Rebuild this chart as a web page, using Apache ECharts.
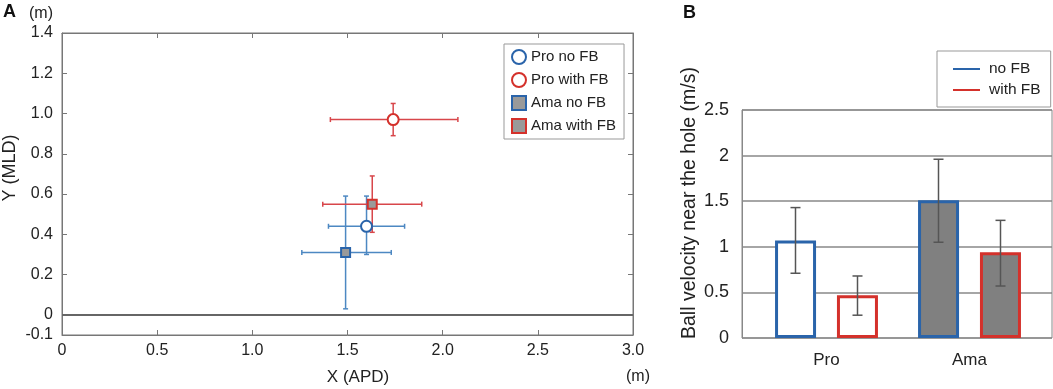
<!DOCTYPE html>
<html>
<head>
<meta charset="utf-8">
<script src="https://cdn.jsdelivr.net/npm/echarts@6/dist/echarts.min.js"></script>
<style>
html, body { margin: 0; padding: 0; background: #fff; }
#chart { width: 1053px; height: 389px; }
</style>
</head>
<body>
<div id="chart"></div>
<script>
// panel A: mean position with error ranges
const groups = ['Pro no FB', 'Pro with FB', 'Ama no FB', 'Ama with FB'];
const meanX = [1.60, 1.74, 1.49, 1.63];
const meanY = [0.44, 0.97, 0.31, 0.55];
const xLow = [1.40, 1.41, 1.26, 1.37];
const xHigh = [1.80, 2.08, 1.73, 1.89];
const yLow = [0.30, 0.89, 0.03, 0.41];
const yHigh = [0.59, 1.05, 0.59, 0.69];
const yTickValues = [0, 0.2, 0.4, 0.6, 0.8, 1.0, 1.2, 1.4];
const yLabelValues = [-0.1, 0, 0.2, 0.4, 0.6, 0.8, 1.0, 1.2, 1.4];

// panel B: ball velocity
const cats = ['Pro', 'Ama'];
const noFB = [1.07, 1.51];
const noFBLow = [0.71, 1.05];
const noFBHigh = [1.43, 1.96];
const withFB = [0.47, 0.94];
const withFBLow = [0.25, 0.57];
const withFBHigh = [0.68, 1.29];

const FONT = 'Liberation Sans, Arial, sans-serif';
const BLUE = '#2a64aa';
const RED = '#d4312b';
const BLUE_ERR = '#4d88c2';
const RED_ERR = '#d8464a';
const GRAY = '#808080';
const errColors = [BLUE_ERR, RED_ERR, BLUE_ERR, RED_ERR];

let chart = echarts.init(document.getElementById('chart'));

function crossErr(params, api) {
	let i = params.dataIndex;
	let x = api.value(0), y = api.value(1);
	let l = api.coord([api.value(2), y]);
	let r = api.coord([api.value(3), y]);
	let b = api.coord([x, api.value(4)]);
	let t = api.coord([x, api.value(5)]);
	let st = { stroke: errColors[i], lineWidth: 1.5 };
	let cap = 2.5;
	return {
		type: 'group',
		children: [
			{ type: 'line', shape: { x1: l[0], y1: l[1], x2: r[0], y2: r[1] }, style: st },
			{ type: 'line', shape: { x1: b[0], y1: b[1], x2: t[0], y2: t[1] }, style: st },
			{ type: 'line', shape: { x1: l[0], y1: l[1] - cap, x2: l[0], y2: l[1] + cap }, style: st },
			{ type: 'line', shape: { x1: r[0], y1: r[1] - cap, x2: r[0], y2: r[1] + cap }, style: st },
			{ type: 'line', shape: { x1: b[0] - cap, y1: b[1], x2: b[0] + cap, y2: b[1] }, style: st },
			{ type: 'line', shape: { x1: t[0] - cap, y1: t[1], x2: t[0] + cap, y2: t[1] }, style: st }
		]
	};
}

// bar error bars: bar width 41, gap 21 -> centre offset 31
function barErr(side) {
	return function(params, api) {
		let c = api.coord([api.value(0), api.value(1)]);
		let lo = api.coord([api.value(0), api.value(2)]);
		let hi = api.coord([api.value(0), api.value(3)]);
		let x = c[0] + side * 31;
		let st = { stroke: '#555', lineWidth: 1.5 };
		return {
			type: 'group',
			children: [
				{ type: 'line', shape: { x1: x, y1: lo[1], x2: x, y2: hi[1] }, style: st },
				{ type: 'line', shape: { x1: x - 5, y1: lo[1], x2: x + 5, y2: lo[1] }, style: st },
				{ type: 'line', shape: { x1: x - 5, y1: hi[1], x2: x + 5, y2: hi[1] }, style: st }
			]
		};
	};
}

let scatterSeries = groups.map(function(g, i) {
	let isPro = i < 2;
	let col = (i % 2 === 0) ? BLUE : RED;
	return {
		name: g,
		type: 'scatter',
		xAxisIndex: 0,
		yAxisIndex: 0,
		symbol: isPro ? 'circle' : 'rect',
		symbolSize: isPro ? 11 : 9,
		itemStyle: {
			color: isPro ? '#fff' : '#9a9a9a',
			borderColor: col,
			borderWidth: 2,
			opacity: 1
		},
		z: 5,
		data: [[meanX[i], meanY[i]]]
	};
});

let option = {
	animation: false,
	textStyle: { fontFamily: FONT },
	grid: [
		{ left: 62, top: 33, width: 571, height: 302, show: true, borderColor: '#777', borderWidth: 1, outerBoundsMode: 'none' },
		{ left: 742, right: 1, top: 110, bottom: 51, show: true, borderColor: '#888', borderWidth: 1, outerBoundsMode: 'none' },
		{ left: 755, right: 12, top: 110, bottom: 51, outerBoundsMode: 'none' }
	],
	legend: [
		{
			data: groups,
			orient: 'vertical',
			left: 504,
			top: 44,
			padding: [5, 8, 5, 7],
			itemGap: 7,
			itemWidth: 14,
			itemHeight: 14,
			borderColor: '#999',
			borderWidth: 1,
			backgroundColor: '#fff',
			textStyle: { fontSize: 15, color: '#222', fontFamily: FONT }
		},
		{
			data: [
				{ name: 'no FB', icon: 'rect', itemStyle: { color: BLUE, borderWidth: 0 } },
				{ name: 'with FB', icon: 'rect', itemStyle: { color: RED, borderWidth: 0 } }
			],
			orient: 'vertical',
			left: 937,
			top: 51,
			padding: [10, 10, 9, 16],
			itemGap: 5,
			itemWidth: 27,
			itemHeight: 2,
			borderColor: '#999',
			borderWidth: 1,
			textStyle: { fontSize: 15.5, color: '#222', fontFamily: FONT, padding: [0, 0, 0, 4] }
		}
	],
	xAxis: [
		{
			gridIndex: 0, type: 'value', min: 0, max: 3, interval: 0.5,
			axisLine: { onZero: false, lineStyle: { color: '#777' } },
			axisTick: { inside: true, length: 5, lineStyle: { color: '#777' } },
			axisLabel: {
				fontSize: 16, color: '#222', margin: 8,
				formatter: function(v) { return v === 0 ? '0' : v.toFixed(1); }
			},
			splitLine: { show: false }
		},
		{
			gridIndex: 0, type: 'value', min: 0, max: 3, interval: 0.5, position: 'top',
			axisLine: { onZero: false, lineStyle: { color: '#777' } },
			axisTick: { inside: true, length: 5, lineStyle: { color: '#777' } },
			axisLabel: { show: false },
			splitLine: { show: false }
		},
		{
			gridIndex: 1, type: 'value', min: 0, max: 1, show: false
		},
		{
			gridIndex: 2, type: 'category', data: cats,
			axisLine: { show: false },
			axisTick: { show: false },
			axisLabel: { fontSize: 17, color: '#222', margin: 14 }
		}
	],
	yAxis: [
		{
			gridIndex: 0, type: 'value', min: -0.1, max: 1.4,
			axisLine: { show: true, onZero: false, lineStyle: { color: '#777' } },
			axisTick: { show: true, inside: true, length: 5, customValues: yTickValues, lineStyle: { color: '#777' } },
			axisLabel: {
				fontSize: 16, color: '#222', margin: 9, customValues: yLabelValues,
				formatter: function(v) { return Math.abs(v) < 1e-9 ? '0' : v.toFixed(1); }
			},
			splitLine: { show: false }
		},
		{
			gridIndex: 0, type: 'value', min: -0.1, max: 1.4, position: 'right',
			axisLine: { show: true, onZero: false, lineStyle: { color: '#777' } },
			axisTick: { show: true, inside: true, length: 5, customValues: yTickValues, lineStyle: { color: '#777' } },
			axisLabel: { show: false },
			splitLine: { show: false }
		},
		{
			gridIndex: 1, type: 'value', min: 0, max: 2.5, interval: 0.5,
			axisLine: { show: true, lineStyle: { color: '#888' } },
			axisTick: { show: false },
			axisLabel: { fontSize: 18, color: '#222', margin: 13 },
			splitLine: { show: true, lineStyle: { color: '#888', width: 1.5 } }
		},
		{
			gridIndex: 2, type: 'value', min: 0, max: 2.5, show: false
		}
	],
	graphic: [
		{ type: 'text', left: 3, top: 3, style: { text: 'A', font: 'bold 18px ' + FONT, fill: '#111' } },
		{ type: 'text', left: 29, top: 6, style: { text: '(m)', font: '16px ' + FONT, fill: '#222' } },
		{
			type: 'text', x: 10, y: 168, rotation: Math.PI / 2,
			style: { text: 'Y (MLD)', font: '18px ' + FONT, fill: '#222', align: 'center', verticalAlign: 'middle' }
		},
		{
			type: 'text', x: 358, y: 377,
			style: { text: 'X (APD)', font: '17px ' + FONT, fill: '#222', align: 'center', verticalAlign: 'middle' }
		},
		{
			type: 'text', x: 638, y: 377,
			style: { text: '(m)', font: '16px ' + FONT, fill: '#222', align: 'center', verticalAlign: 'middle' }
		},
		{ type: 'text', left: 683, top: 4, style: { text: 'B', font: 'bold 18px ' + FONT, fill: '#111' } },
		{
			type: 'text', x: 690, y: 203, rotation: Math.PI / 2,
			style: {
				text: 'Ball velocity near the hole (m/s)', font: '19.5px ' + FONT, fill: '#222',
				align: 'center', verticalAlign: 'middle'
			}
		}
	],
	series: [
		{
			type: 'line',
			xAxisIndex: 0,
			yAxisIndex: 0,
			data: [],
			silent: true,
			markLine: {
				symbol: 'none',
				silent: true,
				label: { show: false },
				lineStyle: { color: '#666', width: 2, type: 'solid' },
				data: [{ yAxis: 0 }]
			}
		},
		{
			type: 'custom',
			xAxisIndex: 0,
			yAxisIndex: 0,
			renderItem: crossErr,
			z: 3,
			data: groups.map(function(g, i) {
				return [meanX[i], meanY[i], xLow[i], xHigh[i], yLow[i], yHigh[i]];
			})
		}
	].concat(scatterSeries).concat([
		{
			name: 'no FB',
			type: 'bar',
			xAxisIndex: 3,
			yAxisIndex: 3,
			barWidth: 41,
			barGap: '51%',
			itemStyle: { color: '#fff', borderColor: BLUE, borderWidth: 3 },
			data: noFB.map(function(v, i) {
				return { value: v, itemStyle: { color: i === 1 ? GRAY : '#fff' } };
			})
		},
		{
			name: 'with FB',
			type: 'bar',
			xAxisIndex: 3,
			yAxisIndex: 3,
			barWidth: 41,
			barGap: '51%',
			itemStyle: { color: '#fff', borderColor: RED, borderWidth: 3 },
			data: withFB.map(function(v, i) {
				return { value: v, itemStyle: { color: i === 1 ? GRAY : '#fff' } };
			})
		},
		{
			type: 'custom',
			xAxisIndex: 3,
			yAxisIndex: 3,
			renderItem: barErr(-1),
			z: 4,
			data: cats.map(function(c, i) { return [i, noFB[i], noFBLow[i], noFBHigh[i]]; })
		},
		{
			type: 'custom',
			xAxisIndex: 3,
			yAxisIndex: 3,
			renderItem: barErr(1),
			z: 4,
			data: cats.map(function(c, i) { return [i, withFB[i], withFBLow[i], withFBHigh[i]]; })
		}
	])
};

chart.setOption(option);
</script>
</body>
</html>
